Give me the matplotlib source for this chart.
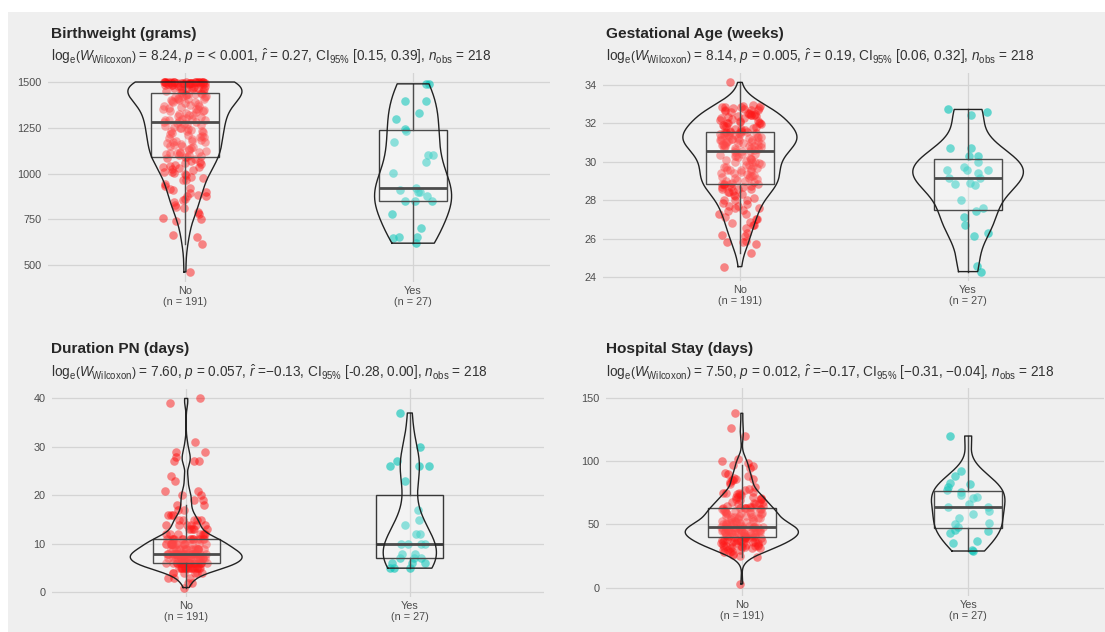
import numpy as np
import matplotlib
matplotlib.use("Agg")
import matplotlib.pyplot as plt
from matplotlib.patches import Rectangle

plt.rcParams["font.family"] = ["Liberation Sans", "DejaVu Sans"]
plt.rcParams["mathtext.fontset"] = "custom"
plt.rcParams["mathtext.rm"] = "Liberation Sans"
plt.rcParams["mathtext.it"] = "Liberation Sans:italic"
plt.rcParams["mathtext.bf"] = "Liberation Sans:bold"

W, H, DPI = 1105, 632, 100

# ---------------------------------------------------------------- data
groups = ["No", "Yes"]
group_n = [191, 27]

birthweight_no = [
    463, 618, 655, 664, 740, 750, 755, 780, 792, 810, 820, 828, 845, 855, 860,
    875, 880, 885, 892, 900, 910, 914, 919, 930, 945, 964, 964, 974, 983, 992,
    1000, 1002, 1010, 1010, 1019, 1025, 1030, 1035, 1037, 1040, 1045, 1050,
    1060, 1065, 1070, 1078, 1085,
    1088, 1092, 1095, 1100, 1100, 1105, 1110, 1110, 1115, 1120, 1120, 1125,
    1130, 1135, 1140, 1145, 1150, 1150, 1155, 1160, 1165, 1170, 1175, 1180,
    1180, 1185, 1190, 1195, 1200, 1200, 1205, 1210, 1215, 1220, 1225, 1230,
    1230, 1235, 1240, 1245, 1250, 1250, 1255, 1260, 1265, 1270, 1272, 1275,
    1280,
    1282, 1285, 1290, 1290, 1295, 1300, 1300, 1305, 1310, 1315, 1320, 1320,
    1325, 1330, 1335, 1340, 1340, 1345, 1350, 1350, 1355, 1360, 1365, 1370,
    1370, 1375, 1380, 1385, 1390, 1390, 1395, 1400, 1400, 1405, 1410, 1410,
    1415, 1420, 1420, 1425, 1425, 1430, 1430, 1435, 1435, 1437, 1438,
    1442,
    1445, 1450, 1450, 1455, 1460, 1460, 1465, 1470, 1470, 1475, 1475, 1480,
    1480, 1480, 1485, 1485, 1485, 1490, 1490, 1490, 1490, 1490, 1492, 1493,
    1494, 1495, 1495, 1495, 1496, 1496, 1497, 1497, 1498, 1498, 1498, 1499,
    1499, 1499, 1500, 1500, 1500, 1500, 1500, 1500, 1500, 1500, 1500,
]
birthweight_yes = [
    620, 646, 655, 655, 702, 782, 851, 851, 851, 879, 900, 900, 910, 920,
    1001, 1061, 1100, 1100, 1170, 1230, 1241, 1298, 1329, 1398, 1398, 1490,
    1490,
]

gestation_no = [
    24.54, 25.27, 25.72, 25.84, 25.84, 25.86, 26.14, 26.2, 26.28, 26.57,
    26.7, 26.72, 26.8, 26.86, 27.0, 27.0, 27.14, 27.28, 27.3, 27.43,
    27.5, 27.57, 27.6, 27.7, 27.71, 27.8, 27.86, 28.0, 28.0, 28.0,
    28.14, 28.2, 28.28, 28.3, 28.43, 28.43, 28.5, 28.57, 28.57, 28.6,
    28.7, 28.71, 28.71, 28.75, 28.8, 28.82, 28.84,
    28.84, 28.85, 28.86, 28.9, 28.95, 29.0, 29.0, 29.05, 29.1, 29.14,
    29.14, 29.2, 29.25, 29.28, 29.3, 29.35, 29.4, 29.43, 29.45, 29.5,
    29.55, 29.57, 29.6, 29.65, 29.7, 29.71, 29.75, 29.8, 29.85, 29.86,
    29.9, 29.95, 30.0, 30.0, 30.0, 30.05, 30.1, 30.14, 30.14, 30.2,
    30.25, 30.28, 30.3, 30.35, 30.4, 30.43, 30.5, 30.55,
    30.58,
    30.6, 30.62, 30.65, 30.7, 30.71, 30.72, 30.75, 30.8, 30.82, 30.85,
    30.86, 30.88, 30.9, 30.92, 30.95, 31.0, 31.0, 31.0, 31.02, 31.05,
    31.08, 31.1, 31.12, 31.14, 31.14, 31.15, 31.18, 31.2, 31.22, 31.25,
    31.28, 31.28, 31.3, 31.32, 31.35, 31.38, 31.4, 31.42, 31.43, 31.45,
    31.48, 31.5, 31.5, 31.52, 31.55, 31.56, 31.57,
    31.58,
    31.6, 31.62, 31.65, 31.7, 31.71, 31.75, 31.8, 31.85, 31.86, 31.9,
    31.95, 32.0, 32.0, 32.0, 32.05, 32.1, 32.14, 32.14, 32.2, 32.25,
    32.28, 32.3, 32.35, 32.4, 32.4, 32.43, 32.43, 32.45, 32.5, 32.5,
    32.55, 32.57, 32.6, 32.65, 32.7, 32.71, 32.71, 32.75, 32.8, 32.8,
    32.85, 32.86, 32.86, 32.9, 32.9, 32.95, 34.14,
]
gestation_yes = [
    24.28, 24.59, 26.14, 26.28, 26.71, 27.14, 27.44, 27.58, 28.0, 28.8,
    28.86, 28.9, 29.14, 29.14, 29.43, 29.57, 29.57, 29.57, 29.71, 30.0,
    30.3, 30.3, 30.7, 30.7, 32.44, 32.58, 32.73,
]

duration_pn_no = [
    1, 2, 2, 3, 3, 3, 4, 4, 4, 4, 4, 4,
    5, 5, 5, 5, 5, 5, 5, 5, 5, 5, 5, 5, 5, 5, 5, 5,
    6, 6, 6, 6, 6, 6, 6, 6, 6, 6, 6, 6, 6, 6, 6, 6, 6, 6, 6, 6, 6, 6,
    7, 7, 7, 7, 7, 7, 7, 7, 7, 7, 7, 7, 7, 7, 7, 7, 7, 7, 7, 7, 7, 7,
    8, 8, 8, 8, 8, 8, 8, 8, 8, 8, 8, 8, 8, 8, 8, 8, 8, 8, 8, 8, 8, 8, 8,
    8, 8,
    9, 9, 9, 9, 9, 9, 9, 9, 9, 9, 9, 9, 9, 9, 9, 9,
    10, 10, 10, 10, 10, 10, 10, 10, 10, 10, 10, 10, 10, 10, 10, 10, 10,
    11, 11, 11, 11, 11, 11, 11, 11, 11, 11, 11, 11, 11, 11,
    12, 12, 12, 12, 12, 12, 12,
    13, 13, 13, 13, 13,
    14, 14, 14, 14, 14, 14,
    15, 15, 15, 15, 15,
    16, 16, 16, 17, 17, 18, 18, 19, 19, 20, 20, 21, 21,
    23, 24, 27, 27, 27, 28, 29, 29, 31, 39, 40,
]
duration_pn_yes = [
    5, 5, 5, 6, 6, 6, 7, 7, 7, 8, 8, 10, 10, 10, 10, 12, 12, 14, 15, 17,
    23, 26, 26, 26, 27, 30, 37,
]

hospital_stay_no = [
    3, 24, 25, 26, 27, 28, 28, 29, 30, 30,
    30, 31, 31, 31, 32, 32, 32, 32, 33, 33,
    33, 33, 34, 34, 34, 35, 35, 35, 35, 36,
    36, 36, 36, 37, 37, 37, 37, 38, 38, 38,
    38, 39, 39, 39, 39, 40, 40, 40,
    40, 40, 41, 41, 41, 41, 41, 42, 42, 42,
    42, 42, 43, 43, 43, 43, 43, 43, 44, 44,
    44, 44, 44, 45, 45, 45, 45, 45, 45, 46,
    46, 46, 46, 46, 47, 47, 47, 47, 47, 48,
    48, 48, 48, 48, 48, 48, 48,
    48,
    49, 49, 49, 50, 50, 50, 50, 51, 51, 51,
    52, 52, 52, 53, 53, 53, 54, 54, 54, 55,
    55, 55, 56, 56, 56, 57, 57, 57, 58, 58,
    58, 59, 59, 59, 60, 60, 60, 61, 61, 61,
    62, 62, 62, 63, 63, 63, 63,
    63,
    64, 64, 65, 65, 66, 66, 67, 67, 68, 68,
    69, 70, 70, 70, 71, 72, 72, 72, 73, 74,
    74, 75, 75, 75, 76, 77, 78, 80, 82, 84,
    85, 85, 86, 86, 87, 88, 90, 91, 95, 96,
    97, 99, 100, 102, 120, 126, 138,
]
hospital_stay_yes = [
    29, 30, 35, 37, 43, 45, 46, 48, 50, 51, 55, 58, 61, 64, 64, 66, 71, 72,
    73, 76, 77, 80, 82, 83, 88, 92, 120,
]

titles = [
    "Birthweight (grams)",
    "Gestational Age (weeks)",
    "Duration PN (days)",
    "Hospital Stay (days)",
]
subtitles = [
    r"log$_{\mathrm{e}}\left(W_{\mathrm{Wilcoxon}}\right)$ = 8.24, $p$ = < 0.001, "
    r"$\hat{r}$ = 0.27, CI$_{95\%}$ [0.15, 0.39], $n_{\mathrm{obs}}$ = 218",
    r"log$_{\mathrm{e}}\left(W_{\mathrm{Wilcoxon}}\right)$ = 8.14, $p$ = 0.005, "
    r"$\hat{r}$ = 0.19, CI$_{95\%}$ [0.06, 0.32], $n_{\mathrm{obs}}$ = 218",
    r"log$_{\mathrm{e}}\left(W_{\mathrm{Wilcoxon}}\right)$ = 7.60, $p$ = 0.057, "
    "$\\hat{r}$ =\u22120.13, CI$_{95\\%}$ [-0.28, 0.00], $n_{\\mathrm{obs}}$ = 218",
    r"log$_{\mathrm{e}}\left(W_{\mathrm{Wilcoxon}}\right)$ = 7.50, $p$ = 0.012, "
    "$\\hat{r}$ =\u22120.17, CI$_{95\\%}$ [\u22120.31, \u22120.04], $n_{\\mathrm{obs}}$ = 218",
]
y_ticks = [
    [500, 750, 1000, 1250, 1500],
    [24, 26, 28, 30, 32, 34],
    [0, 10, 20, 30, 40],
    [0, 50, 100, 150],
]
y_limits = [(408, 1552), (23.79, 34.63), (-0.95, 41.95), (-6.6, 158.0)]

panel_data = [
    (birthweight_no, birthweight_yes),
    (gestation_no, gestation_yes),
    (duration_pn_no, duration_pn_yes),
    (hospital_stay_no, hospital_stay_yes),
]

# panel rectangles in pixels: left, top, right, bottom
panel_px = [(48, 72.5, 550, 282), (603, 73, 1105, 281),
            (52, 389, 544, 597), (606, 388, 1104, 596)]
title_px = [(51, 37.7, 61), (606, 37.7, 61), (51, 353.3, 377), (606, 353.3, 377)]

colors = ["#FF0000", "#00C2B6"]
point_alpha = [0.45, 0.6]
GRID = "#D4D4D4"
BG = "#EFEFEF"
BOX = "#383838"

# horizontal jitter, as ggplot's position_jitter does
jitter_rng = np.random.default_rng(7)


def kde(values, grid):
    v = np.asarray(values, float)
    n = v.size
    sd = v.std(ddof=1)
    iqr = np.subtract(*np.percentile(v, [75, 25]))
    h = 0.9 * min(sd, iqr / 1.34) * n ** -0.2
    z = (grid[:, None] - v[None, :]) / h
    return np.exp(-0.5 * z ** 2).sum(axis=1) / (n * h * np.sqrt(2 * np.pi))


fig = plt.figure(figsize=(W / DPI, H / DPI), dpi=DPI)
fig.patch.set_facecolor("white")
fig.add_artist(Rectangle((8 / W, 0), 1 - 8 / W, 1 - 12 / H,
                         transform=fig.transFigure, facecolor=BG,
                         edgecolor="none", zorder=-10))

for i, (no_vals, yes_vals) in enumerate(panel_data):
    l, t, r, b = panel_px[i]
    ax = fig.add_axes([l / W, 1 - b / H, (r - l) / W, (b - t) / H])
    ax.set_facecolor("none")
    for s in ax.spines.values():
        s.set_visible(False)
    ax.set_xlim(-0.6, 1.6)
    ax.set_ylim(*y_limits[i])
    ax.set_yticks(y_ticks[i])
    ax.set_xticks([0, 1])
    ax.set_xticklabels([f"{g}\n(n = {n})" for g, n in zip(groups, group_n)],
                       linespacing=1.05)
    ax.tick_params(length=0, labelsize=7.8, labelcolor="#4D4D4D")
    ax.tick_params(axis="y", pad=4.5)
    ax.tick_params(axis="x", pad=3)
    ax.grid(True, color=GRID, lw=0.9)
    ax.set_axisbelow(True)

    sets = [np.asarray(no_vals, float), np.asarray(yes_vals, float)]

    # points
    for k, v in enumerate(sets):
        dx = jitter_rng.uniform(-0.095, 0.095, v.size)
        ax.scatter(k + dx, v, s=38, color=colors[k],
                   alpha=point_alpha[k], linewidths=0, zorder=2)

    # boxes
    for k, v in enumerate(sets):
        q1, med, q3 = np.percentile(v, [25, 50, 75])
        iqr = q3 - q1
        hi = v[v <= q3 + 1.5 * iqr].max()
        lo = v[v >= q1 - 1.5 * iqr].min()
        ax.add_patch(Rectangle((k - 0.15, q1), 0.3, q3 - q1,
                               facecolor=(1, 1, 1, 0.2), edgecolor=BOX,
                               lw=1.0, zorder=3))
        ax.plot([k - 0.15, k + 0.15], [med, med], color=BOX, lw=2.0,
                zorder=3.1, solid_capstyle="butt")
        ax.plot([k, k], [q3, hi], color=BOX, lw=1.0, zorder=3)
        ax.plot([k, k], [lo, q1], color=BOX, lw=1.0, zorder=3)

    # violins (area-scaled, trimmed to the data range)
    grids = [np.linspace(v.min(), v.max(), 512) for v in sets]
    dens = [kde(v, g) for v, g in zip(sets, grids)]
    dmax = max(d.max() for d in dens)
    for k, (g, d) in enumerate(zip(grids, dens)):
        w = 0.25 * d / dmax
        xs = np.concatenate([k - w, (k + w)[::-1], [k - w[0]]])
        ys = np.concatenate([g, g[::-1], [g[0]]])
        ax.fill(xs, ys, facecolor=(1, 1, 1, 0.1), edgecolor="none", zorder=4)
        ax.plot(xs, ys, color="#222222", lw=1.0, zorder=4.1)

    tx, ty, sy = title_px[i]
    fig.text(tx / W, 1 - ty / H, titles[i], fontsize=11.1, fontweight="bold",
             color="#262626", va="baseline", ha="left")
    fig.text(tx / W, 1 - sy / H, subtitles[i], fontsize=9.85, color="#333333",
             va="baseline", ha="left")

fig.savefig("out.png", dpi=DPI)
